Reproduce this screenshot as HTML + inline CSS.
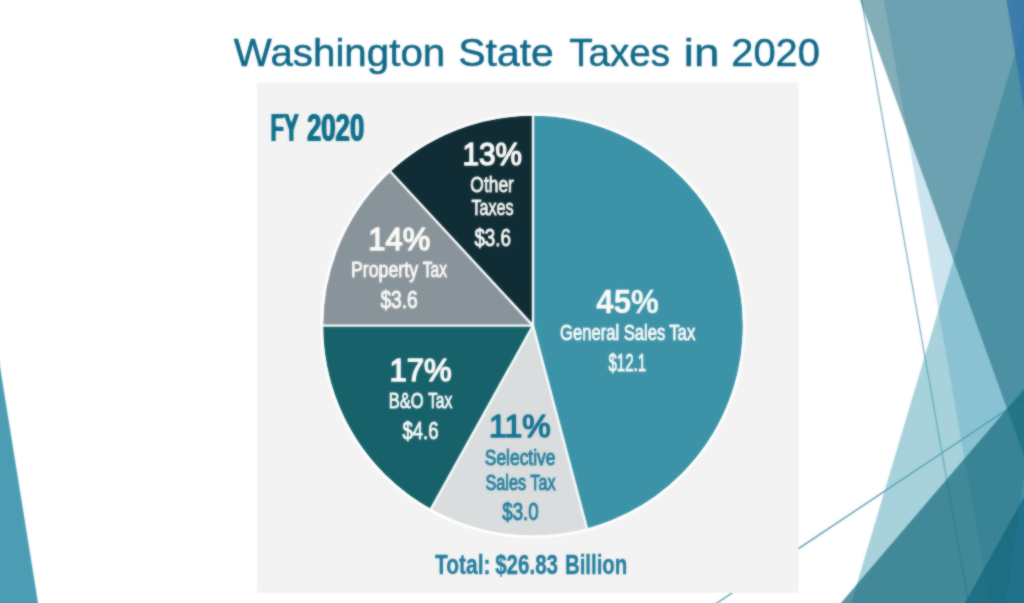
<!DOCTYPE html>
<html lang="en">
<head>
<meta charset="utf-8">
<title>Washington State Taxes in 2020</title>
<style>
html,body{margin:0;padding:0;background:#fff;width:1024px;height:603px;overflow:hidden;}
body{font-family:"Liberation Sans",sans-serif;}
#slide{position:absolute;left:0;top:0;width:1024px;height:603px;overflow:hidden;background:#fff;}
svg{display:block;position:absolute;left:0;top:0;}
svg text{font-family:"Liberation Sans",sans-serif;}
</style>
</head>
<body>
<div id="slide">
<svg width="1052" height="631" viewBox="-14 -14 1052 631" style="left:-14px;top:-14px">
<defs><filter id="soft" color-interpolation-filters="sRGB" filterUnits="userSpaceOnUse" x="-14" y="-14" width="1052" height="631"><feGaussianBlur stdDeviation="0.9" result="b"/><feComposite in="b" in2="SourceGraphic" operator="arithmetic" k1="0" k2="0.6" k3="0.40" k4="0"/></filter><filter id="w4" color-interpolation-filters="sRGB" x="-10%" y="-15%" width="120%" height="130%"><feGaussianBlur stdDeviation="1 0"/><feComponentTransfer><feFuncA type="linear" slope="3" intercept="-0.479"/></feComponentTransfer></filter></defs>
<g filter="url(#soft)">
<rect x="-14" y="-14" width="1052" height="631" fill="#ffffff"/>
<!-- decorative facets -->
<g id="facets">
<line x1="686.3" y1="623.5" x2="1054.7" y2="377.7" stroke="#5fa3b7" stroke-width="1.5"/>
<line x1="850.8" y1="-60.3" x2="979.4" y2="663.3" stroke="#7fb2c0" stroke-width="1.3"/>
<polygon points="1035.2,-14.0 1038.0,-14.0 1038.0,617.0 847.0,617.0" fill="#4fa5b8" fill-opacity="0.5"/>
<polygon points="881.5,-14.0 1038.0,-14.0 1038.0,617.0 992.2,617.0" fill="#3494ba" fill-opacity="0.25"/>
<polygon points="855.0,-14.0 1038.0,-14.0 1038.0,494.9" fill="#116377" fill-opacity="0.52"/>
<polygon points="1038.0,372.6 1038.0,617.0 829.0,617.0" fill="#166a7c" fill-opacity="0.7"/>
<polygon points="1038.0,383.4 1038.0,617.0 1003.4,617.0" fill="#5ab0e0" fill-opacity="0.3"/>
<polygon points="1004.3,-14.0 1038.0,-14.0 1038.0,196.2" fill="#2f73aa" fill-opacity="0.8"/>
<polygon points="1038.0,471.8 1038.0,617.0 957.2,617.0" fill="#0f617a" fill-opacity="0.66"/>
<polygon points="40.3,617.0 -14.0,617.0 -14.0,280.1" fill="#4c9db3"/>
</g>
<!-- chart panel -->
<rect x="257" y="82.5" width="541.5" height="510.5" fill="#f3f3f3"/>
<g id="pie"><path d="M533,325.6 L533.00,115.60 A210,210 0 0 1 587.00,528.54 Z" fill="#3c93a8"/><path d="M533,325.6 L587.00,528.54 A210,210 0 0 1 430.87,509.09 Z" fill="#d9dddd"/><path d="M533,325.6 L430.87,509.09 A210,210 0 0 1 323.00,325.60 Z" fill="#17616a"/><path d="M533,325.6 L323.00,325.60 A210,210 0 0 1 390.32,171.52 Z" fill="#88949a"/><path d="M533,325.6 L390.32,171.52 A210,210 0 0 1 533.00,115.60 Z" fill="#102c34"/></g>
<g stroke="#f8fcfc" stroke-width="2.4" stroke-linecap="butt"><line x1="533" y1="325.6" x2="533.00" y2="115.60"/><line x1="533" y1="325.6" x2="587.00" y2="528.54"/><line x1="533" y1="325.6" x2="430.87" y2="509.09"/><line x1="533" y1="325.6" x2="323.00" y2="325.60"/><line x1="533" y1="325.6" x2="390.32" y2="171.52"/></g>
<circle cx="533" cy="325.6" r="211.2" fill="none" stroke="#ffffff" stroke-width="2.8"/>
<g id="labels">
<text y="66.3" font-size="39.6" font-weight="400" fill="#0f6787" stroke="#0f6787" stroke-width="0.5" stroke-linejoin="round"><tspan x="233.85" textLength="211.42" lengthAdjust="spacingAndGlyphs">Washington</tspan> <tspan x="458.25" textLength="95.66" lengthAdjust="spacingAndGlyphs">State</tspan> <tspan x="569.25" textLength="100.78" lengthAdjust="spacingAndGlyphs">Taxes</tspan> <tspan x="683.75" textLength="35.53" lengthAdjust="spacingAndGlyphs">in</tspan> <tspan x="731.25" textLength="88.61" lengthAdjust="spacingAndGlyphs">2020</tspan></text>
<text y="141.1" font-size="39.0" font-weight="700" fill="#0f6f8c" filter="url(#w4)"><tspan x="270.5" textLength="27.83" lengthAdjust="spacingAndGlyphs">FY</tspan> <tspan x="307.0" textLength="57.22" lengthAdjust="spacingAndGlyphs">2020</tspan></text>
<text y="165.1" font-size="32.2" font-weight="400" fill="#fbfbf8" stroke="#fbfbf8" stroke-width="1.5" stroke-linejoin="round"><tspan x="462.5" textLength="59.51" lengthAdjust="spacingAndGlyphs">13%</tspan></text>
<text y="192.2" font-size="21.8" font-weight="400" fill="#fbfbf8" stroke="#fbfbf8" stroke-width="0.9" stroke-linejoin="round"><tspan x="470.35" textLength="43.51" lengthAdjust="spacingAndGlyphs">Other</tspan></text>
<text y="214.9" font-size="21.8" font-weight="400" fill="#fbfbf8" stroke="#fbfbf8" stroke-width="0.9" stroke-linejoin="round"><tspan x="471.45" textLength="42.11" lengthAdjust="spacingAndGlyphs">Taxes</tspan></text>
<text y="245.7" font-size="23" font-weight="400" fill="#fbfbf8" stroke="#fbfbf8" stroke-width="0.9" stroke-linejoin="round"><tspan x="474.4" textLength="36.55" lengthAdjust="spacingAndGlyphs">$3.6</tspan></text>
<text y="250.0" font-size="32.2" font-weight="400" fill="#fbfbf8" stroke="#fbfbf8" stroke-width="1.5" stroke-linejoin="round"><tspan x="368.3" textLength="62.01" lengthAdjust="spacingAndGlyphs">14%</tspan></text>
<text y="277.4" font-size="21.8" font-weight="400" fill="#fbfbf8" stroke="#fbfbf8" stroke-width="0.9" stroke-linejoin="round"><tspan x="350.95" textLength="67.11" lengthAdjust="spacingAndGlyphs">Property</tspan> <tspan x="422.65" textLength="24.35" lengthAdjust="spacingAndGlyphs">Tax</tspan></text>
<text y="308.1" font-size="23" font-weight="400" fill="#fbfbf8" stroke="#fbfbf8" stroke-width="0.9" stroke-linejoin="round"><tspan x="380.4" textLength="37.4" lengthAdjust="spacingAndGlyphs">$3.6</tspan></text>
<text y="381.1" font-size="32.2" font-weight="400" fill="#fbfbf8" stroke="#fbfbf8" stroke-width="1.5" stroke-linejoin="round"><tspan x="389.45" textLength="62.22" lengthAdjust="spacingAndGlyphs">17%</tspan></text>
<text y="408.1" font-size="21.8" font-weight="400" fill="#fbfbf8" stroke="#fbfbf8" stroke-width="0.9" stroke-linejoin="round"><tspan x="388.8" textLength="34.86" lengthAdjust="spacingAndGlyphs">B&amp;O</tspan> <tspan x="428.0" textLength="24.3" lengthAdjust="spacingAndGlyphs">Tax</tspan></text>
<text y="439.2" font-size="23" font-weight="400" fill="#fbfbf8" stroke="#fbfbf8" stroke-width="0.9" stroke-linejoin="round"><tspan x="402.4" textLength="36.1" lengthAdjust="spacingAndGlyphs">$4.6</tspan></text>
<text y="312.6" font-size="33.5" font-weight="700" fill="#fbfbf8" stroke="#fbfbf8" stroke-width="0.3" stroke-linejoin="round"><tspan x="596.35" textLength="62.42" lengthAdjust="spacingAndGlyphs">45%</tspan></text>
<text y="340.1" font-size="21.8" font-weight="400" fill="#fbfbf8" stroke="#fbfbf8" stroke-width="0.9" stroke-linejoin="round"><tspan x="560.0" textLength="59.13" lengthAdjust="spacingAndGlyphs">General</tspan> <tspan x="623.7" textLength="41.71" lengthAdjust="spacingAndGlyphs">Sales</tspan> <tspan x="669.15" textLength="26.3" lengthAdjust="spacingAndGlyphs">Tax</tspan></text>
<text y="371.3" font-size="23" font-weight="400" fill="#fbfbf8" stroke="#fbfbf8" stroke-width="0.9" stroke-linejoin="round"><tspan x="608.5" textLength="37.66" lengthAdjust="spacingAndGlyphs">$12.1</tspan></text>
<text y="437.3" font-size="32.2" font-weight="400" fill="#167394" stroke="#167394" stroke-width="1.5" stroke-linejoin="round"><tspan x="489.1" textLength="61.57" lengthAdjust="spacingAndGlyphs">11%</tspan></text>
<text y="465.0" font-size="21.8" font-weight="400" fill="#237f9e" stroke="#237f9e" stroke-width="0.9" stroke-linejoin="round"><tspan x="484.85" textLength="70.52" lengthAdjust="spacingAndGlyphs">Selective</tspan></text>
<text y="489.5" font-size="21.8" font-weight="400" fill="#237f9e" stroke="#237f9e" stroke-width="0.9" stroke-linejoin="round"><tspan x="485.5" textLength="40.62" lengthAdjust="spacingAndGlyphs">Sales</tspan> <tspan x="530.35" textLength="25.11" lengthAdjust="spacingAndGlyphs">Tax</tspan></text>
<text y="520.3" font-size="23" font-weight="400" fill="#237f9e" stroke="#237f9e" stroke-width="0.9" stroke-linejoin="round"><tspan x="502.25" textLength="36.35" lengthAdjust="spacingAndGlyphs">$3.0</tspan></text>
<text y="574.0" font-size="28.0" font-weight="700" fill="#237c9c" stroke="#237c9c" stroke-width="0.35" stroke-linejoin="round"><tspan x="435.1" textLength="55.37" lengthAdjust="spacingAndGlyphs">Total:</tspan> <tspan x="495.15" textLength="62.86" lengthAdjust="spacingAndGlyphs">$26.83</tspan> <tspan x="564.95" textLength="62.29" lengthAdjust="spacingAndGlyphs">Billion</tspan></text>
</g>
</g>
</svg>
</div>
</body>
</html>
